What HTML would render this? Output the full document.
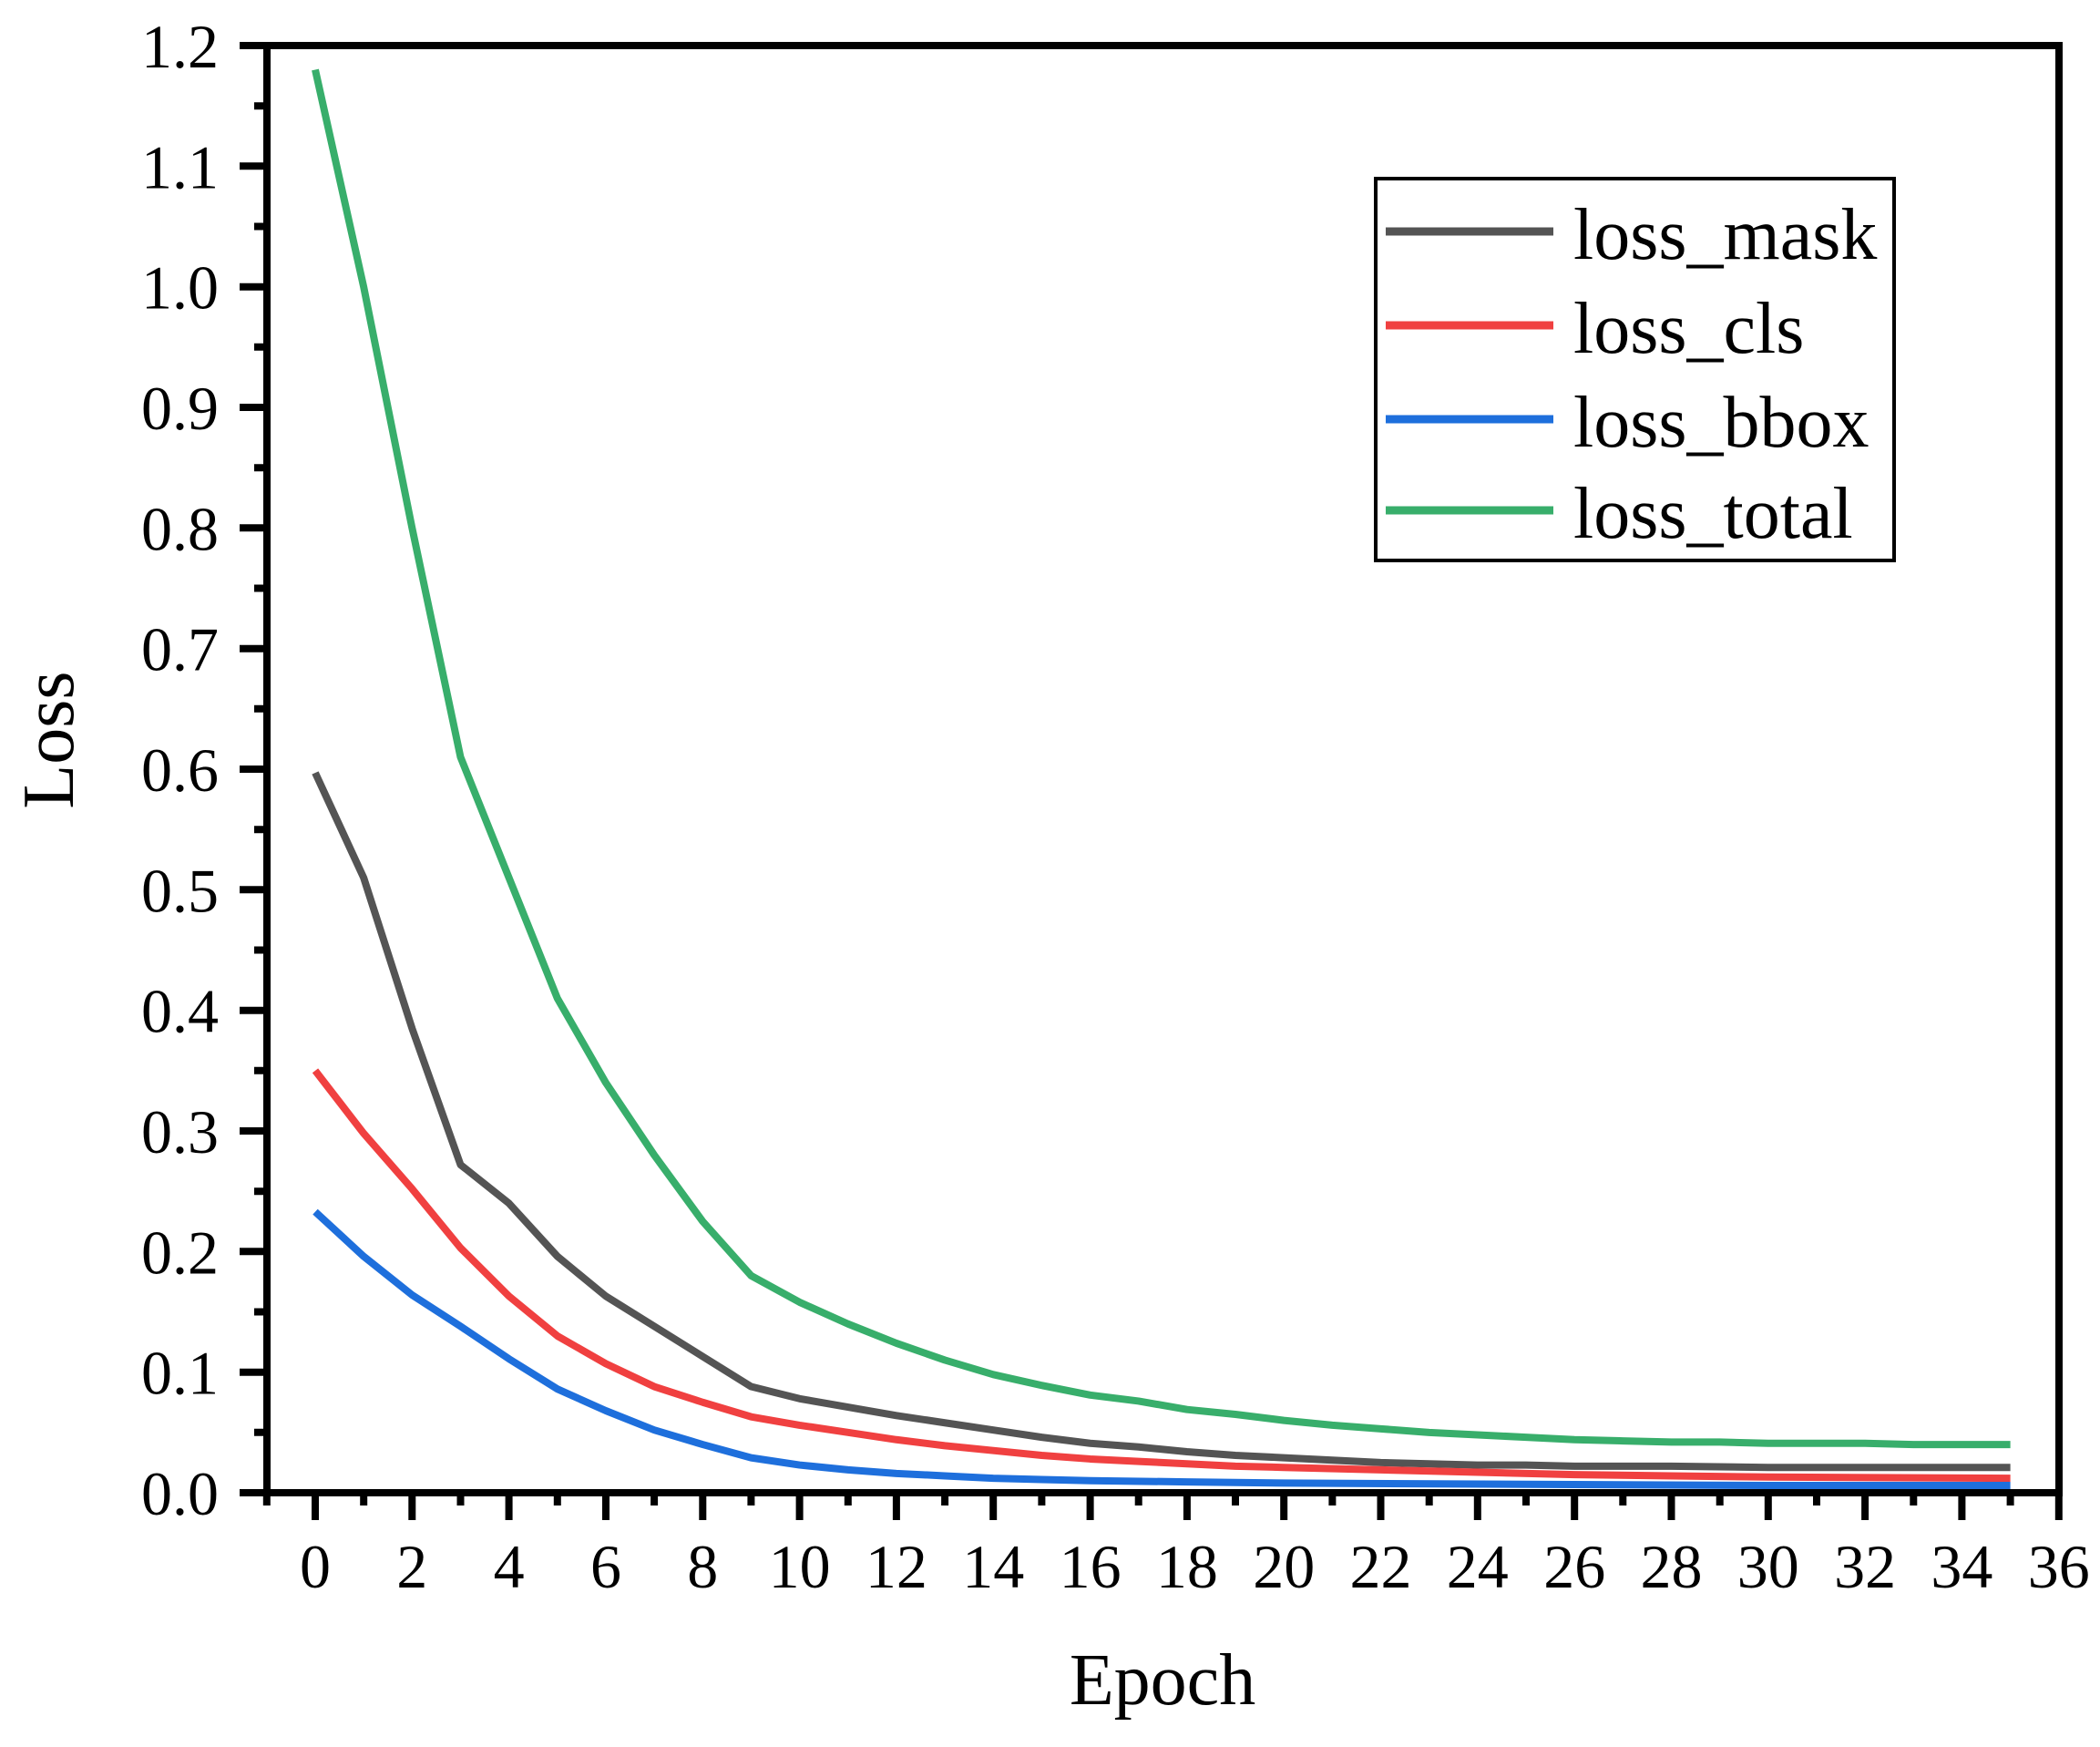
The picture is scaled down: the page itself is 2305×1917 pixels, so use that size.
<!DOCTYPE html>
<html><head><meta charset="utf-8"><style>
html,body{margin:0;padding:0;background:#fff;}
svg{display:block;}
text{font-family:"Liberation Serif","Times New Roman",serif;fill:#000;}
</style></head><body>
<svg width="2305" height="1917" viewBox="0 0 2305 1917" xmlns="http://www.w3.org/2000/svg">
<rect width="2305" height="1917" fill="#fff"/>
<g transform="translate(346,1638) scale(53.16,-1323.3)" fill="none" stroke-linejoin="round">
<polyline vector-effect="non-scaling-stroke" stroke="#38ae6b" stroke-width="8" points="0,1.18 1,1.0 2,0.8 3,0.61 4,0.51 5,0.41 6,0.34 7,0.28 8,0.225 9,0.18 10,0.158 11,0.14 12,0.124 13,0.11 14,0.098 15,0.089 16,0.081 17,0.076 18,0.069 19,0.065 20,0.06 21,0.056 22,0.053 23,0.05 24,0.048 25,0.046 26,0.044 27,0.043 28,0.042 29,0.042 30,0.041 31,0.041 32,0.041 33,0.04 34,0.04 35,0.04"/>
<polyline vector-effect="non-scaling-stroke" stroke="#545454" stroke-width="8" points="0,0.597 1,0.51 2,0.385 3,0.272 4,0.24 5,0.196 6,0.163 7,0.138 8,0.113 9,0.088 10,0.078 11,0.071 12,0.064 13,0.058 14,0.052 15,0.046 16,0.041 17,0.038 18,0.034 19,0.031 20,0.029 21,0.027 22,0.025 23,0.024 24,0.023 25,0.023 26,0.022 28,0.022 30,0.021 35,0.021"/>
<polyline vector-effect="non-scaling-stroke" stroke="#f04040" stroke-width="8" points="0,0.35 1,0.298 2,0.252 3,0.203 4,0.163 5,0.13 6,0.107 7,0.088 8,0.075 9,0.063 10,0.056 11,0.05 12,0.044 13,0.039 14,0.035 15,0.031 16,0.028 17,0.026 18,0.024 19,0.022 20,0.021 22,0.019 24,0.017 26,0.015 28,0.014 30,0.013 35,0.012"/>
<polyline vector-effect="non-scaling-stroke" stroke="#1e6fdc" stroke-width="8" points="0,0.233 1,0.196 2,0.164 3,0.138 4,0.111 5,0.086 6,0.068 7,0.052 8,0.04 9,0.029 10,0.023 11,0.019 12,0.016 13,0.014 14,0.012 15,0.011 16,0.01 18,0.009 20,0.008 25,0.007 30,0.006 35,0.006"/>
</g>
<rect x="293" y="50" width="1967" height="1588" fill="none" stroke="#000" stroke-width="8"/>
<path stroke="#000" stroke-width="8" fill="none" d="M263 1638H293M263 1505.7H293M263 1373.3H293M263 1241H293M263 1108.7H293M263 976.3H293M263 844H293M263 711.7H293M263 579.3H293M263 447H293M263 314.7H293M263 182.3H293M263 50H293
M279 1571.8H293M279 1439.5H293M279 1307.2H293M279 1174.8H293M279 1042.5H293M279 910.2H293M279 777.8H293M279 645.5H293M279 513.2H293M279 380.8H293M279 248.5H293M279 116.2H293
M346 1638V1668M452.3 1638V1668M558.6 1638V1668M665 1638V1668M771.3 1638V1668M877.6 1638V1668M983.9 1638V1668M1090.2 1638V1668M1196.6 1638V1668M1302.9 1638V1668M1409.2 1638V1668M1515.5 1638V1668M1621.8 1638V1668M1728.2 1638V1668M1834.5 1638V1668M1940.8 1638V1668M2047.1 1638V1668M2153.4 1638V1668M2259.8 1638V1668
M292.8 1638V1652M399.2 1638V1652M505.5 1638V1652M611.8 1638V1652M718.1 1638V1652M824.4 1638V1652M930.8 1638V1652M1037.1 1638V1652M1143.4 1638V1652M1249.7 1638V1652M1356 1638V1652M1462.4 1638V1652M1568.7 1638V1652M1675 1638V1652M1781.3 1638V1652M1887.7 1638V1652M1994 1638V1652M2100.3 1638V1652M2206.6 1638V1652"/>
<g font-size="68" text-anchor="end">
<text x="240" y="1662">0.0</text><text x="240" y="1529.7">0.1</text><text x="240" y="1397.3">0.2</text><text x="240" y="1265">0.3</text><text x="240" y="1132.7">0.4</text><text x="240" y="1000.3">0.5</text><text x="240" y="868">0.6</text><text x="240" y="735.7">0.7</text><text x="240" y="603.3">0.8</text><text x="240" y="471">0.9</text><text x="240" y="338.7">1.0</text><text x="240" y="206.3">1.1</text><text x="240" y="74">1.2</text>
</g>
<g font-size="68" text-anchor="middle">
<text x="346" y="1742">0</text><text x="452.3" y="1742">2</text><text x="558.6" y="1742">4</text><text x="665" y="1742">6</text><text x="771.3" y="1742">8</text><text x="877.6" y="1742">10</text><text x="983.9" y="1742">12</text><text x="1090.2" y="1742">14</text><text x="1196.6" y="1742">16</text><text x="1302.9" y="1742">18</text><text x="1409.2" y="1742">20</text><text x="1515.5" y="1742">22</text><text x="1621.8" y="1742">24</text><text x="1728.2" y="1742">26</text><text x="1834.5" y="1742">28</text><text x="1940.8" y="1742">30</text><text x="2047.1" y="1742">32</text><text x="2153.4" y="1742">34</text><text x="2259.8" y="1742">36</text>
</g>
<text x="1276" y="1870" font-size="80" text-anchor="middle">Epoch</text>
<text transform="translate(80,812) rotate(-90)" font-size="80" text-anchor="middle">Loss</text>
<rect x="1510" y="196" width="569" height="419" fill="#fff" stroke="#000" stroke-width="4"/>
<g stroke-width="9">
<line x1="1521" y1="254" x2="1705" y2="254" stroke="#545454"/>
<line x1="1521" y1="357" x2="1705" y2="357" stroke="#f04040"/>
<line x1="1521" y1="460" x2="1705" y2="460" stroke="#1e6fdc"/>
<line x1="1521" y1="560" x2="1705" y2="560" stroke="#38ae6b"/>
</g>
<g font-size="80">
<text x="1727" y="284">loss_mask</text>
<text x="1727" y="387">loss_cls</text>
<text x="1727" y="490">loss_bbox</text>
<text x="1727" y="590">loss_total</text>
</g>
</svg>
</body></html>
